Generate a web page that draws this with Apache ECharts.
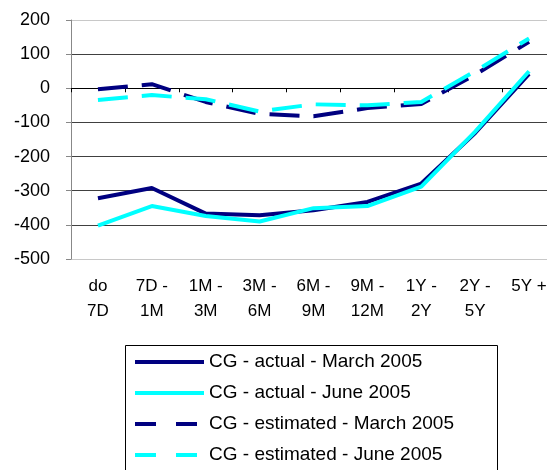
<!DOCTYPE html>
<html>
<head>
<meta charset="utf-8">
<script src="https://cdn.jsdelivr.net/npm/echarts@6/dist/echarts.min.js"></script>
<style>
html,body{margin:0;padding:0;background:#fff;}
#chart{width:547px;height:470px;}
</style>
</head>
<body>
<div id="chart"></div>
<script>
var categories = ['do\n7D', '7D -\n1M', '1M -\n3M', '3M -\n6M', '6M -\n9M', '9M -\n12M', '1Y -\n2Y', '2Y -\n5Y', '5Y +'];
var actualMarch = [-322, -292, -367, -372, -357, -333, -279, -131, 42];
var actualJune = [-402, -345, -374, -390, -351, -345, -288, -127, 50];
var estimatedMarch = [-3, 12, -40, -75, -82, -58, -46, 40, 136];
var estimatedJune = [-34, -20, -32, -68, -47, -50, -40, 50, 146];
var seriesNames = ['CG - actual - March 2005', 'CG - actual - June 2005', 'CG - estimated - March 2005', 'CG - estimated - June 2005'];

var FONT = 'Liberation Sans, Arial, sans-serif';
var NAVY = '#000080', CYAN = '#00FFFF';

function mkSeries(name, data, color, dashed) {
  return {
    name: name, type: 'line', data: data, xAxisIndex: 0, yAxisIndex: 0,
    symbol: 'none', smooth: false,
    lineStyle: { color: color, width: 4, type: dashed ? [30, 14] : 'solid', cap: 'butt' },
    itemStyle: { color: color },
    emphasis: { disabled: true }
  };
}

var chart = echarts.init(document.getElementById('chart'), null, { renderer: 'canvas' });
chart.setOption({
  animation: false,
  backgroundColor: '#fff',
  textStyle: { fontFamily: FONT },
  grid: { left: 71, top: 20, right: -9, bottom: 211, containLabel: false, outerBoundsMode: 'none' },
  graphic: [{
    type: 'rect', left: 125, top: 345, z: 0,
    shape: { width: 372, height: 200 },
    style: { fill: '#fff', stroke: '#000', lineWidth: 1 }
  }],
  xAxis: [
    {
      type: 'category', data: categories, position: 'top', boundaryGap: true,
      axisLine: { show: true, onZero: true, lineStyle: { color: '#000', width: 1 } },
      axisTick: { show: true, inside: true, length: 4, alignWithLabel: false, lineStyle: { color: '#000' } },
      axisLabel: { show: false },
      splitLine: { show: false }
    },
    {
      type: 'category', data: categories, position: 'bottom', boundaryGap: true,
      axisLine: { show: false, onZero: false },
      axisTick: { show: false },
      axisLabel: { show: true, interval: 0, fontSize: 17, lineHeight: 25, margin: 15, color: '#000', fontFamily: FONT, align: 'center', verticalAlign: 'top' },
      splitLine: { show: false }
    }
  ],
  yAxis: {
    type: 'value', min: -500, max: 200, interval: 100,
    axisLine: { show: true, lineStyle: { color: '#888', width: 1 } },
    axisTick: { show: true, length: 5, lineStyle: { color: '#888' } },
    axisLabel: { fontSize: 18, margin: 21, color: '#000', fontFamily: FONT },
    splitLine: { show: true, lineStyle: { color: ['#c8c8c8', '#404040', '#404040', '#404040', '#404040', '#404040', '#404040', '#c8c8c8'], width: 1 } }
  },
  legend: {
    show: true, orient: 'vertical', left: 125, top: 345, z: 5,
    padding: [7, 0, 0, 8],
    itemWidth: 69, itemHeight: 14, itemGap: 11,
    itemStyle: { opacity: 0 },
    lineStyle: { width: 4 },
    textStyle: { fontSize: 19, lineHeight: 20, color: '#000', fontFamily: FONT },
    data: [
      { name: seriesNames[0] },
      { name: seriesNames[1] },
      { name: seriesNames[2], lineStyle: { type: [21, 20] } },
      { name: seriesNames[3], lineStyle: { type: [21, 20] } }
    ],
    selectedMode: false
  },
  series: [
    mkSeries(seriesNames[0], actualMarch, NAVY, false),
    mkSeries(seriesNames[1], actualJune, CYAN, false),
    mkSeries(seriesNames[2], estimatedMarch, NAVY, true),
    mkSeries(seriesNames[3], estimatedJune, CYAN, true)
  ]
});
</script>
</body>
</html>
